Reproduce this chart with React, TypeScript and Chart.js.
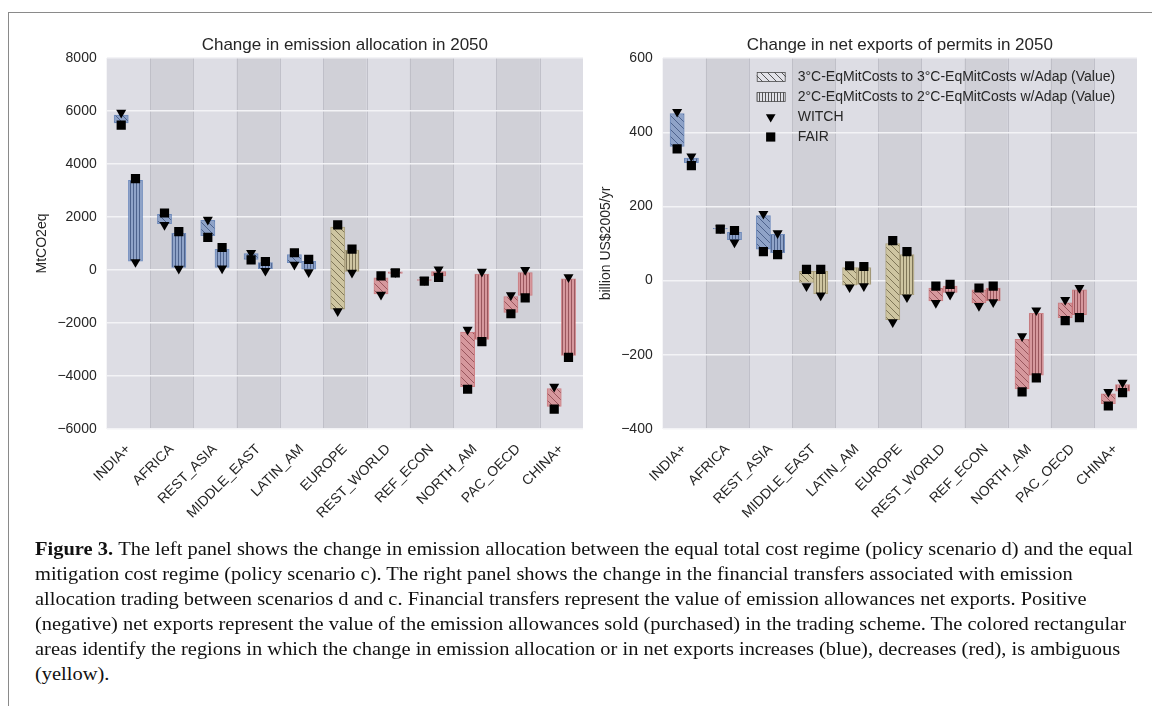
import React, { useEffect, useLayoutEffect, useRef } from 'react';
import { Chart, registerables } from 'chart.js';

Chart.register(...registerables);

// ---------------- DATA ----------------
const categories = ['INDIA+', 'AFRICA', 'REST_ASIA', 'MIDDLE_EAST', 'LATIN_AM', 'EUROPE', 'REST_WORLD', 'REF_ECON', 'NORTH_AM', 'PAC_OECD', 'CHINA+'];

// inc = blue (increase), dec = red (decrease), amb = yellow (ambiguous)
const emisKinds = ['inc', 'inc', 'inc', 'inc', 'inc', 'amb', 'dec', 'dec', 'dec', 'dec', 'dec'];
const expKinds = ['inc', 'inc', 'inc', 'amb', 'amb', 'amb', 'dec', 'dec', 'dec', 'dec', 'dec'];

// Left panel: change in emission allocation (MtCO2eq)
const emis3Low = [5550, 1750, 1300, 400, 280, -1480, -900, -390, -4400, -1600, -5150];
const emis3High = [5850, 2100, 1870, 620, 580, 1620, -300, -360, -2340, -1000, -4470];
const emis3Witch = [5940, 1700, 1900, 650, 200, -1550, -930, -380, -2250, -950, -4400];
const emis3Fair = [5470, 2150, 1230, 380, 650, 1700, -220, -420, -4500, -1650, -5250];
const emis2Low = [330, 100, 100, 50, 30, -50, -130, -220, -2620, -960, -3220];
const emis2High = [3380, 1380, 780, 280, 330, 750, -70, -60, -150, -100, -330];
const emis2Witch = [300, 50, 60, -30, -80, -100, -80, 20, -60, 0, -270];
const emis2Fair = [3450, 1450, 850, 320, 400, 790, -110, -280, -2700, -1050, -3300];

// Right panel: change in net exports of permits (billion US$2005/yr)
const exp3Low = [362, 139, 85, -5, -12, -105, -55, -60, -292, -100, -332];
const exp3High = [450, 141, 175, 25, 35, 100, -20, -25, -158, -60, -305];
const exp3Witch = [455, 141, 180, -15, -18, -112, -60, -68, -150, -52, -300];
const exp3Fair = [355, 139, 78, 30, 40, 108, -15, -20, -300, -108, -338];
const exp2Low = [318, 110, 75, -35, -10, -38, -32, -55, -255, -92, -298];
const exp2High = [330, 130, 125, 25, 35, 70, -15, -20, -88, -25, -280];
const exp2Witch = [335, 103, 128, -40, -15, -45, -38, -58, -80, -20, -275];
const exp2Fair = [310, 135, 70, 30, 38, 78, -10, -15, -262, -100, -302];

const legendLabels = [
  '3°C-EqMitCosts to 3°C-EqMitCosts w/Adap (Value)',
  '2°C-EqMitCosts to 2°C-EqMitCosts w/Adap (Value)',
  'WITCH',
  'FAIR',
];

const captionLines = [
  'The left panel shows the change in emission allocation between the equal total cost regime (policy scenario d) and the equal',
  'mitigation cost regime (policy scenario c). The right panel shows the change in the financial transfers associated with emission',
  'allocation trading between scenarios d and c. Financial transfers represent the value of emission allowances net exports. Positive',
  '(negative) net exports represent the value of the emission allowances sold (purchased) in the trading scheme. The colored rectangular',
  'areas identify the regions in which the change in emission allocation or in net exports increases (blue), decreases (red), is ambiguous',
  '(yellow).',
];

// ---------------- STYLE ----------------
const SANS = '"Liberation Sans", Arial, sans-serif';
const TEXT = '#262626';
const BAND_LIGHT = 'rgb(221,221,228)';
const BAND_DARK = 'rgb(208,208,215)';
const BAND_EDGE = 'rgba(188,188,197,0.9)';
const FILL: Record<string, string> = { inc: '#8fa3c8', dec: '#d6989d', amb: '#cec5a1' };
const HATCH: Record<string, string> = { inc: 'rgba(40,60,105,0.7)', dec: 'rgba(110,40,48,0.65)', amb: 'rgba(80,72,45,0.7)' };
const EDGE: Record<string, string> = { inc: 'rgba(76,114,176,0.75)', dec: 'rgba(196,78,82,0.65)', amb: 'rgba(150,135,80,0.65)' };

const PLOT_BOTTOM = 429;
const CANVAS_H = 540;
const MARK_OFF = 0.165;
const BAR_PX = 14.2;

function makeHatch(ctx: CanvasRenderingContext2D, fill: string, line: string, kind: 'diag' | 'vert') {
  const c = document.createElement('canvas');
  const s = kind === 'diag' ? 7 : 3;
  c.width = s;
  c.height = s;
  const g = c.getContext('2d')!;
  g.fillStyle = fill;
  g.fillRect(0, 0, s, s);
  g.strokeStyle = line;
  g.lineWidth = 0.9;
  if (kind === 'diag') {
    for (const k of [-1, 0, 1]) {
      g.beginPath();
      g.moveTo(-1, -1 + k * s);
      g.lineTo(s + 1, s + 1 + k * s);
      g.stroke();
    }
  } else {
    g.beginPath();
    g.moveTo(1.5, 0);
    g.lineTo(1.5, s);
    g.stroke();
  }
  return ctx.createPattern(c, 'repeat')!;
}

const fmt = (v: number | string) => String(v).replace('-', '\u2212');

type PanelProps = {
  left: number;
  width: number;
  title: string;
  yTitle: string;
  yMin: number;
  yMax: number;
  step: number;
  kinds: string[];
  low3: number[];
  high3: number[];
  witch3: number[];
  fair3: number[];
  low2: number[];
  high2: number[];
  witch2: number[];
  fair2: number[];
  yAxisWidth: number;
  padRight: number;
  yTitleOffset: number;
  legend?: boolean;
};

function Panel(p: PanelProps) {
  const ref = useRef<HTMLCanvasElement>(null);
  useEffect(() => {
    const canvas = ref.current!;
    const ctx = canvas.getContext('2d')!;
    const diag = p.kinds.map((k) => makeHatch(ctx, FILL[k], HATCH[k], 'diag'));
    const vert = p.kinds.map((k) => makeHatch(ctx, FILL[k], HATCH[k], 'vert'));

    const bandsPlugin = {
      id: 'bands',
      beforeDraw(chart: any) {
        const { ctx: c, chartArea: a, scales } = chart;
        const xs = scales.x;
        c.save();
        c.fillStyle = BAND_LIGHT;
        c.fillRect(a.left, a.top, a.right - a.left, a.bottom - a.top);
        c.fillStyle = BAND_DARK;
        categories.forEach((_, i) => {
          if (i % 2 === 1) {
            const x0 = xs.getPixelForValue(i - 0.5);
            const x1 = xs.getPixelForValue(i + 0.5);
            c.fillRect(x0, a.top, x1 - x0, a.bottom - a.top);
          }
        });
        c.strokeStyle = BAND_EDGE;
        c.lineWidth = 1;
        categories.forEach((_, i) => {
          if (i === 0) return;
          const x = Math.round(xs.getPixelForValue(i - 0.5)) + 0.5;
          c.beginPath();
          c.moveTo(x, a.top);
          c.lineTo(x, a.bottom);
          c.stroke();
        });
        c.restore();
      },
    };

    const legendPlugin = {
      id: 'innerLegend',
      afterDraw(chart: any) {
        if (!p.legend) return;
        const { ctx: c, chartArea: a } = chart;
        const sx = a.left + 94;
        const tx = a.left + 135;
        const mx = a.left + 108;
        const rows = [19, 39, 59, 79].map((d) => a.top + d);
        c.save();
        const sw1 = makeHatch(c, '#e2e2e8', 'rgba(50,50,50,0.9)', 'diag');
        const sw2 = makeHatch(c, '#e2e2e8', 'rgba(50,50,50,0.9)', 'vert');
        [sw1, sw2].forEach((pat, k) => {
          c.fillStyle = pat;
          c.fillRect(sx, rows[k] - 4.5, 29, 9);
          c.strokeStyle = 'rgba(60,60,60,0.9)';
          c.lineWidth = 0.8;
          c.strokeRect(sx + 0.5, rows[k] - 4.5, 28, 9);
        });
        c.fillStyle = '#000';
        const r = 5.6;
        c.beginPath();
        c.moveTo(mx, rows[2] + r);
        c.lineTo(mx - r * 0.866, rows[2] - r * 0.5);
        c.lineTo(mx + r * 0.866, rows[2] - r * 0.5);
        c.closePath();
        c.fill();
        c.fillRect(mx - 4.6, rows[3] - 4.6, 9.2, 9.2);
        c.fillStyle = TEXT;
        c.font = `14px ${SANS}`;
        c.textBaseline = 'middle';
        c.textAlign = 'left';
        legendLabels.forEach((t, k) => c.fillText(t, tx, rows[k] + 0.5));
        c.restore();
      },
    };

    const bars3 = categories.map((_, i) => ({ x: i - MARK_OFF, y: [p.low3[i], p.high3[i]] }));
    const bars2 = categories.map((_, i) => ({ x: i + MARK_OFF, y: [p.low2[i], p.high2[i]] }));
    const witch = [
      ...categories.map((_, i) => ({ x: i - MARK_OFF, y: p.witch3[i] })),
      ...categories.map((_, i) => ({ x: i + MARK_OFF, y: p.witch2[i] })),
    ];
    const fair = [
      ...categories.map((_, i) => ({ x: i - MARK_OFF, y: p.fair3[i] })),
      ...categories.map((_, i) => ({ x: i + MARK_OFF, y: p.fair2[i] })),
    ];

    const chart = new Chart(canvas, {
      type: 'bar',
      data: {
        datasets: [
          {
            type: 'bar',
            label: legendLabels[0],
            data: bars3,
            backgroundColor: diag,
            borderColor: p.kinds.map((k) => EDGE[k]),
            borderWidth: 1,
            borderSkipped: false,
            grouped: false,
            barThickness: BAR_PX,
            order: 2,
          } as any,
          {
            type: 'bar',
            label: legendLabels[1],
            data: bars2,
            backgroundColor: vert,
            borderColor: p.kinds.map((k) => EDGE[k]),
            borderWidth: 1,
            borderSkipped: false,
            grouped: false,
            barThickness: BAR_PX,
            order: 2,
          } as any,
          {
            type: 'scatter',
            label: 'FAIR',
            data: fair,
            pointStyle: 'rect',
            pointRadius: 6.5,
            backgroundColor: '#000',
            borderColor: '#000',
            borderWidth: 0,
            order: 1,
          } as any,
          {
            type: 'scatter',
            label: 'WITCH',
            data: witch,
            pointStyle: 'triangle',
            pointRotation: 180,
            pointRadius: 5.8,
            backgroundColor: '#000',
            borderColor: '#000',
            borderWidth: 0,
            order: 0,
          } as any,
        ],
      },
      options: {
        animation: false,
        responsive: false,
        maintainAspectRatio: false,
        events: [],
        layout: { padding: { left: 0, right: p.padRight, top: 0, bottom: 0 } },
        plugins: {
          legend: { display: false },
          tooltip: { enabled: false },
          title: {
            display: true,
            text: p.title,
            fullSize: false,
            color: TEXT,
            font: { family: SANS, size: 17, weight: 'normal' as any },
            padding: { top: 35.5, bottom: 2.1 },
          },
        },
        scales: {
          x: {
            type: 'linear',
            min: -0.5,
            max: 10.5,
            offset: false,
            grid: { display: false, offset: false, drawTicks: false },
            border: { display: false },
            afterBuildTicks: (s: any) => {
              s.ticks = categories.map((_, i) => ({ value: i }));
            },
            ticks: {
              autoSkip: false,
              maxRotation: 45,
              minRotation: 45,
              padding: 12,
              color: TEXT,
              font: { family: SANS, size: 14 },
              callback: (v: any) => categories[Math.round(Number(v))] ?? '',
            },
            afterFit: (s: any) => {
              s.height = CANVAS_H - PLOT_BOTTOM;
              s.paddingLeft = 0;
              s.paddingRight = 0;
            },
          } as any,
          y: {
            type: 'linear',
            min: p.yMin,
            max: p.yMax,
            ticks: {
              stepSize: p.step,
              padding: 10,
              color: TEXT,
              font: { family: SANS, size: 14 },
              callback: (v: any) => fmt(v),
            },
            grid: { color: '#f3f3f6', lineWidth: 1.4, drawTicks: false },
            border: { display: false },
            title: {
              display: true,
              text: p.yTitle,
              color: TEXT,
              font: { family: SANS, size: 14 },
              padding: { top: p.yTitleOffset, bottom: 0 },
            },
            afterFit: (s: any) => {
              s.width = p.yAxisWidth;
            },
          } as any,
        },
      },
      plugins: [bandsPlugin, legendPlugin],
    });
    return () => chart.destroy();
  }, []);
  return (
    <canvas
      ref={ref}
      width={p.width}
      height={CANVAS_H}
      style={{ position: 'absolute', left: p.left, top: 0, width: p.width, height: CANVAS_H }}
    />
  );
}

const CAPTION_LEFT = 35;
const CAPTION_WIDTH = 1098;
const CAPTION_TOP = 537;
const CAPTION_LH = 25;

export default function App() {
  const capRef = useRef<HTMLDivElement>(null);
  useLayoutEffect(() => {
    const box = capRef.current;
    if (!box) return;
    const lines = Array.from(box.children) as HTMLElement[];
    const w = lines[0].offsetWidth;
    const s = CAPTION_WIDTH / w;
    lines.forEach((l) => {
      l.style.transform = `scaleX(${s})`;
    });
  }, []);

  return (
    <div style={{ position: 'absolute', left: 0, top: 0, width: 1152, height: 706, overflow: 'hidden', background: '#fff' }}>
      <div
        style={{
          position: 'absolute',
          left: 8,
          top: 12,
          right: -4,
          bottom: -4,
          borderTop: '1.5px solid #8a8a8a',
          borderLeft: '1.5px solid #8a8a8a',
        }}
      />
      <Panel
        left={0}
        width={590}
        title="Change in emission allocation in 2050"
        yTitle="MtCO2eq"
        yMin={-6000}
        yMax={8000}
        step={2000}
        kinds={emisKinds}
        low3={emis3Low}
        high3={emis3High}
        witch3={emis3Witch}
        fair3={emis3Fair}
        low2={emis2Low}
        high2={emis2High}
        witch2={emis2Witch}
        fair2={emis2Fair}
        yAxisWidth={106.7}
        padRight={7}
        yTitleOffset={33.6}
      />
      <Panel
        left={590}
        width={562}
        title="Change in net exports of permits in 2050"
        yTitle="billion US$2005/yr"
        yMin={-400}
        yMax={600}
        step={200}
        kinds={expKinds}
        low3={exp3Low}
        high3={exp3High}
        witch3={exp3Witch}
        fair3={exp3Fair}
        low2={exp2Low}
        high2={exp2High}
        witch2={exp2Witch}
        fair2={exp2Fair}
        yAxisWidth={72.7}
        padRight={15}
        yTitleOffset={7.6}
        legend
      />
      <div ref={capRef} style={{ fontFamily: '"Liberation Serif", "Times New Roman", serif', fontSize: 18, color: '#111' }}>
        {captionLines.map((t, i) => (
          <div
            key={i}
            style={{
              position: 'absolute',
              left: CAPTION_LEFT,
              top: CAPTION_TOP + i * CAPTION_LH,
              whiteSpace: 'nowrap',
              lineHeight: `${CAPTION_LH}px`,
              transformOrigin: 'left center',
            }}
          >
            {i === 0 ? <b>Figure 3. </b> : null}
            {t}
          </div>
        ))}
      </div>
    </div>
  );
}
